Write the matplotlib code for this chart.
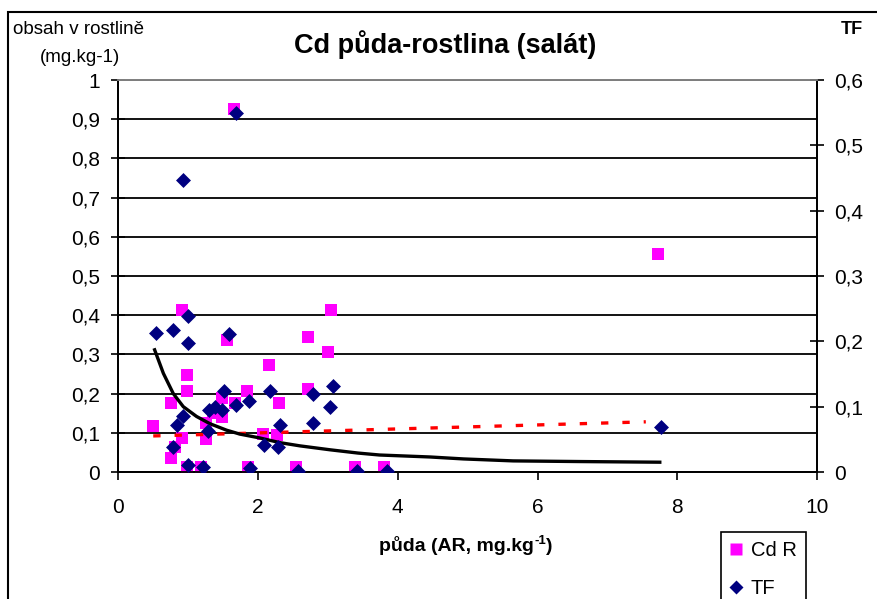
import matplotlib
matplotlib.use("Agg")
import matplotlib.pyplot as plt
from matplotlib.ticker import FuncFormatter, MultipleLocator
from matplotlib.patches import Rectangle
from matplotlib.lines import Line2D

plt.rcParams['font.family'] = ['Liberation Sans', 'DejaVu Sans']

# Cd R - obsah v rostline (leva osa)
cd_x = [0.50, 0.75, 0.75, 0.81, 0.91, 0.91, 0.99, 0.99, 0.99, 1.19, 1.26, 1.26,
        1.36, 1.48, 1.48, 1.56, 1.66, 1.67, 1.84, 1.86, 2.07, 2.15, 2.27, 2.30,
        2.55, 2.72, 2.72, 3.00, 3.05, 3.39, 3.80, 7.72]
cd_y = [0.117, 0.175, 0.035, 0.065, 0.413, 0.086, 0.247, 0.207, 0.014, 0.014, 0.124, 0.083,
        0.150, 0.190, 0.141, 0.338, 0.926, 0.175, 0.207, 0.014, 0.097, 0.273, 0.094, 0.175,
        0.014, 0.345, 0.213, 0.305, 0.413, 0.014, 0.014, 0.555]

# TF (prava osa)
tf_x = [0.535, 0.78, 0.78, 0.835, 0.93, 0.93, 1.00, 1.00, 1.00, 1.21, 1.29, 1.30,
        1.38, 1.48, 1.51, 1.59, 1.68, 1.69, 1.87, 1.88, 2.09, 2.17, 2.29, 2.32,
        2.57, 2.78, 2.78, 3.03, 3.08, 3.42, 3.84, 7.77]
tf_y = [0.213, 0.218, 0.038, 0.072, 0.086, 0.447, 0.239, 0.197, 0.011, 0.008, 0.062, 0.095,
        0.100, 0.095, 0.124, 0.211, 0.103, 0.550, 0.108, 0.006, 0.041, 0.124, 0.039, 0.072,
        0.002, 0.120, 0.075, 0.099, 0.131, 0.002, 0.002, 0.069]

# spojnice trendu
tf_trend_x = [0.52, 0.645, 0.787, 0.93, 1.12, 1.31, 1.55, 1.74, 2.03, 2.31, 2.6,
              3.03, 3.43, 3.74, 4.46, 4.94, 5.65, 6.6, 7.75]
tf_trend_y = [0.187, 0.151, 0.120, 0.100, 0.085, 0.074, 0.064, 0.058, 0.052, 0.045, 0.040,
              0.034, 0.029, 0.026, 0.023, 0.020, 0.017, 0.016, 0.015]
cd_trend_x = [0.5, 7.55]
cd_trend_y = [0.092, 0.128]

W, H = 877, 599
fig = plt.figure(figsize=(W / 100, H / 100), dpi=100)
ax = fig.add_axes([118.3 / W, 1 - 472 / H, (817 - 118.3) / W, (472 - 80) / H])
ax2 = ax.twinx()

comma = FuncFormatter(lambda v, p: f'{v:g}'.replace('.', ','))

ax.set_xlim(0, 10)
ax.set_ylim(0, 1)
ax2.set_ylim(0, 0.6)
ax.xaxis.set_major_locator(MultipleLocator(2))
ax.yaxis.set_major_locator(MultipleLocator(0.1))
ax2.yaxis.set_major_locator(MultipleLocator(0.1))
ax.yaxis.set_major_formatter(comma)
ax2.yaxis.set_major_formatter(comma)

ax.yaxis.grid(True, color='black', lw=1.3)
ax.set_axisbelow(True)

for a in (ax, ax2):
    a.spines['top'].set_color('#808080')
    for s in a.spines.values():
        s.set_linewidth(1.3)
ax.tick_params(axis='y', direction='inout', length=10, width=1.2, labelsize=15, pad=8)
ax2.tick_params(axis='y', direction='inout', length=10, width=1.2, labelsize=15, pad=7)
ax.tick_params(axis='x', direction='out', length=6, width=1.2, labelsize=15, pad=13)

# data
ax.scatter(cd_x, cd_y, marker='s', s=66, color='#FF00FF', lw=0, zorder=3)
ax.plot(cd_trend_x, cd_trend_y, color='red', lw=2.4, dashes=(2.2, 4.2), zorder=4)
ax2.scatter(tf_x, tf_y, marker='D', s=58, color='#000080', lw=0, zorder=3)
ax2.plot(tf_trend_x, tf_trend_y, color='black', lw=2.4, zorder=2)

# texty
fig.text(445 / W, 1 - 45 / H, 'Cd půda-rostlina (salát)', ha='center', va='center',
         fontsize=19.5, fontweight='bold')
fig.text(13 / W, 1 - 30 / H, 'obsah v rostlině', ha='left', va='center', fontsize=13.5)
fig.text(80 / W, 1 - 57 / H, '(mg.kg-1)', ha='center', va='center', fontsize=13.5)
fig.text(852 / W, 1 - 29 / H, 'TF', ha='center', va='center', fontsize=13, fontweight='bold')

# popisek osy x s horním indexem
renderer = fig.canvas.get_renderer()
parts = [('půda (AR, mg.kg', 14, 0), ('-1', 9.5, 7), (')', 14, 0)]
widths = []
for txt, fs, dy in parts:
    t = fig.text(0, 0, txt, fontsize=fs, fontweight='bold')
    widths.append(t.get_window_extent(renderer).width)
    t.remove()
xpos = 466 - sum(widths) / 2
for (txt, fs, dy), w in zip(parts, widths):
    fig.text(xpos / W, 1 - (551 - dy) / H, txt, fontsize=fs, fontweight='bold',
             ha='left', va='baseline')
    xpos += w

# ramecek grafu
fig.patches.append(Rectangle((8 / W, -0.1), 1.2, 1 - 12 / H + 0.1, transform=fig.transFigure,
                             fill=False, ec='black', lw=1.5))

handles = [Line2D([], [], ls='none', marker='s', ms=8, color='#FF00FF', mec='none'),
           Line2D([], [], ls='none', marker='D', ms=7, color='#000080', mec='none')]
leg = fig.legend(handles, ['Cd R', 'TF'], loc='upper left',
                 bbox_to_anchor=(720.7 / W, 1 - 531.7 / H), fontsize=14.5,
                 frameon=True, fancybox=False, edgecolor='black', framealpha=1,
                 handlelength=0.6, handletextpad=0.45, labelspacing=0.95,
                 borderpad=0.45, borderaxespad=0)
leg.get_frame().set_linewidth(1.2)

fig.savefig('out.png', dpi=100)
